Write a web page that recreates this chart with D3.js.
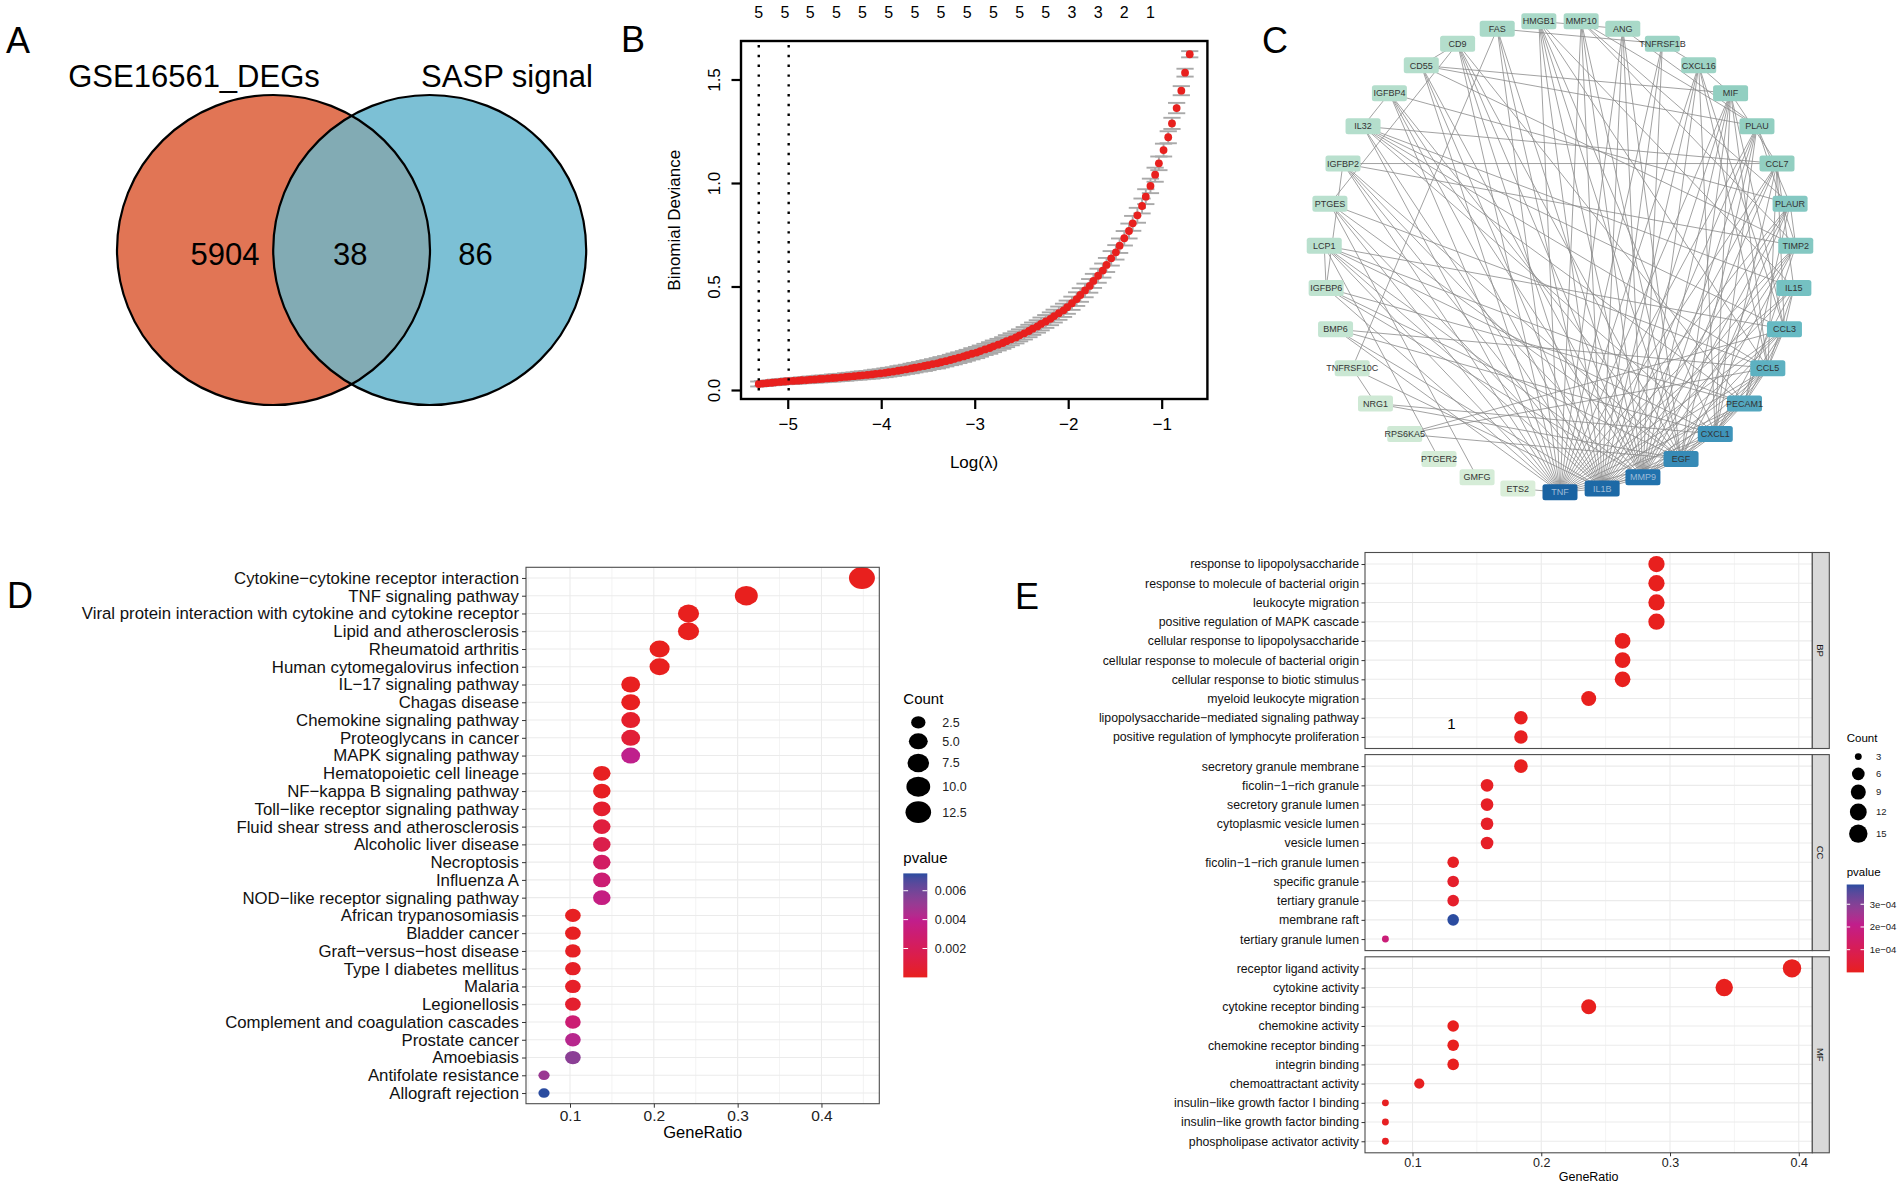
<!DOCTYPE html>
<html><head><meta charset="utf-8">
<script src="https://cdn.jsdelivr.net/npm/d3@7"></script>
<style>body{margin:0;background:#fff}svg{display:block}</style>
</head><body><svg id="fig" width="1902" height="1187"></svg>
<script>
// ================= DATA =================
// Panel A
const vennSets = ["GSE16561_DEGs", "SASP signal"];
const vennCounts = [5904, 38, 86];

// Panel B (cv.glmnet)
const logLambda = [-5.31,-5.27,-5.22,-5.17,-5.13,-5.08,-5.03,-4.99,-4.94,-4.89,
 -4.85,-4.80,-4.76,-4.71,-4.66,-4.62,-4.57,-4.52,-4.48,-4.43,
 -4.38,-4.34,-4.29,-4.24,-4.20,-4.15,-4.10,-4.06,-4.01,-3.96,
 -3.92,-3.87,-3.82,-3.78,-3.73,-3.68,-3.64,-3.59,-3.54,-3.50,
 -3.45,-3.40,-3.36,-3.31,-3.26,-3.22,-3.17,-3.12,-3.08,-3.03,
 -2.98,-2.94,-2.89,-2.84,-2.80,-2.75,-2.70,-2.66,-2.61,-2.56,
 -2.52,-2.47,-2.42,-2.38,-2.33,-2.29,-2.24,-2.19,-2.15,-2.10,
 -2.05,-2.01,-1.96,-1.91,-1.87,-1.82,-1.77,-1.73,-1.68,-1.63,
 -1.59,-1.54,-1.49,-1.45,-1.40,-1.35,-1.31,-1.26,-1.21,-1.17,
 -1.12,-1.07,-1.03,-0.98,-0.93,-0.89,-0.84,-0.79,-0.75,-0.70];
const deviance = [0.029,0.031,0.033,0.035,0.037,0.039,0.041,0.043,0.044,0.045,
 0.047,0.048,0.050,0.051,0.053,0.054,0.056,0.058,0.059,0.061,
 0.063,0.065,0.067,0.069,0.071,0.073,0.075,0.078,0.080,0.083,
 0.086,0.089,0.093,0.096,0.100,0.104,0.108,0.112,0.116,0.120,
 0.125,0.129,0.134,0.139,0.145,0.150,0.156,0.162,0.168,0.175,
 0.181,0.188,0.196,0.203,0.211,0.219,0.227,0.236,0.245,0.254,
 0.264,0.274,0.285,0.296,0.307,0.319,0.331,0.344,0.357,0.371,
 0.385,0.400,0.419,0.439,0.459,0.481,0.503,0.527,0.552,0.577,
 0.604,0.636,0.665,0.697,0.733,0.768,0.805,0.844,0.889,0.934,
 0.986,1.040,1.095,1.159,1.221,1.288,1.362,1.446,1.533,1.622];
const devSE = [0.012,0.012,0.012,0.012,0.013,0.013,0.013,0.013,0.014,0.014,
 0.014,0.015,0.015,0.015,0.016,0.016,0.016,0.017,0.017,0.017,
 0.018,0.018,0.018,0.019,0.019,0.019,0.020,0.020,0.020,0.021,
 0.021,0.021,0.022,0.022,0.022,0.023,0.023,0.023,0.024,0.024,
 0.024,0.025,0.025,0.025,0.025,0.026,0.026,0.026,0.026,0.027,
 0.027,0.027,0.027,0.028,0.028,0.028,0.028,0.029,0.029,0.029,
 0.029,0.030,0.030,0.030,0.030,0.031,0.031,0.031,0.031,0.032,
 0.032,0.032,0.032,0.033,0.033,0.033,0.033,0.034,0.034,0.034,
 0.034,0.035,0.035,0.035,0.035,0.036,0.036,0.036,0.036,0.036,
 0.035,0.034,0.033,0.031,0.029,0.027,0.025,0.022,0.019,0.015];
const nzeroLabels = [5,5,5,5,5,5,5,5,5,5,5,5,3,3,2,1];   // every 6th lambda
const lambdaMin = -5.31, lambda1se = -4.99;
const bXTicks = [-5,-4,-3,-2,-1];
const bYTicks = [0, 0.5, 1, 1.5];

// Panel C (PPI network, circular layout ordered by degree)
const ppiNodes = ["TNF","IL1B","MMP9","EGF","CXCL1","PECAM1","CCL5","CCL3","IL15","TIMP2",
 "PLAUR","CCL7","PLAU","MIF","CXCL16","TNFRSF1B","ANG","MMP10","HMGB1","FAS",
 "CD9","CD55","IGFBP4","IL32","IGFBP2","PTGES","LCP1","IGFBP6","BMP6","TNFRSF10C",
 "NRG1","RPS6KA5","PTGER2","GMFG","ETS2"];
const ppiDegree = [30,28,25,20,18,16,15,14,13,12,12,11,11,11,10,10,9,9,9,9,8,8,8,8,7,7,7,6,5,4,3,3,2,2,1];
const ppiEdges = [
 ["TNF","IL1B"],["TNF","MMP9"],["TNF","EGF"],["TNF","CXCL1"],["TNF","PECAM1"],["TNF","CCL5"],["TNF","CCL3"],["TNF","IL15"],["TNF","TIMP2"],["TNF","PLAUR"],["TNF","CCL7"],["TNF","PLAU"],["TNF","MIF"],["TNF","CXCL16"],["TNF","TNFRSF1B"],["TNF","ANG"],["TNF","MMP10"],["TNF","HMGB1"],["TNF","FAS"],["TNF","CD9"],["TNF","CD55"],["TNF","IGFBP4"],["TNF","IL32"],["TNF","PTGES"],["TNF","LCP1"],["TNF","IGFBP6"],["TNF","BMP6"],["TNF","ETS2"],["TNF","IGFBP2"],
 ["IL1B","MMP9"],["IL1B","EGF"],["IL1B","CXCL1"],["IL1B","PECAM1"],["IL1B","CCL5"],["IL1B","CCL3"],["IL1B","IL15"],["IL1B","TIMP2"],["IL1B","PLAUR"],["IL1B","CCL7"],["IL1B","PLAU"],["IL1B","MIF"],["IL1B","CXCL16"],["IL1B","TNFRSF1B"],["IL1B","ANG"],["IL1B","MMP10"],["IL1B","HMGB1"],["IL1B","FAS"],["IL1B","CD9"],["IL1B","CD55"],["IL1B","IGFBP4"],["IL1B","IL32"],["IL1B","IGFBP2"],["IL1B","PTGES"],["IL1B","LCP1"],["IL1B","BMP6"],["IL1B","TNFRSF10C"],
 ["MMP9","EGF"],["MMP9","CXCL1"],["MMP9","PECAM1"],["MMP9","CCL5"],["MMP9","CCL3"],["MMP9","TIMP2"],["MMP9","PLAUR"],["MMP9","CCL7"],["MMP9","PLAU"],["MMP9","MIF"],["MMP9","CXCL16"],["MMP9","TNFRSF1B"],["MMP9","ANG"],["MMP9","MMP10"],["MMP9","HMGB1"],["MMP9","FAS"],["MMP9","CD9"],["MMP9","CD55"],["MMP9","IGFBP4"],["MMP9","IGFBP2"],["MMP9","LCP1"],["MMP9","IGFBP6"],
 ["EGF","CXCL1"],["EGF","PECAM1"],["EGF","CCL5"],["EGF","TIMP2"],["EGF","PLAUR"],["EGF","PLAU"],["EGF","MIF"],["EGF","ANG"],["EGF","MMP10"],["EGF","HMGB1"],["EGF","CD9"],["EGF","IGFBP4"],["EGF","IGFBP2"],["EGF","IGFBP6"],["EGF","NRG1"],["EGF","RPS6KA5"],["EGF","PTGES"],
 ["CXCL1","PECAM1"],["CXCL1","CCL5"],["CXCL1","CCL3"],["CXCL1","CCL7"],["CXCL1","IL15"],["CXCL1","PLAU"],["CXCL1","MIF"],["CXCL1","CXCL16"],["CXCL1","HMGB1"],["CXCL1","IL32"],["CXCL1","LCP1"],["CXCL1","BMP6"],
 ["PECAM1","CCL5"],["PECAM1","CCL3"],["PECAM1","TIMP2"],["PECAM1","PLAUR"],["PECAM1","CD9"],["PECAM1","IL32"],["PECAM1","LCP1"],["PECAM1","IGFBP6"],
 ["CCL5","CCL3"],["CCL5","CCL7"],["CCL5","IL15"],["CCL5","MIF"],["CCL5","CXCL16"],["CCL5","HMGB1"],["CCL5","IL32"],["CCL5","BMP6"],["CCL5","RPS6KA5"],["CCL5","PTGES"],
 ["CCL3","CCL7"],["CCL3","IL15"],["CCL3","MIF"],["CCL3","CXCL16"],["CCL3","IL32"],["CCL3","LCP1"],
 ["IL15","CCL7"],["IL15","IL32"],["IL15","HMGB1"],["TIMP2","PLAUR"],["TIMP2","PLAU"],["TIMP2","MMP10"],["TIMP2","IGFBP2"],["TIMP2","CD55"],
 ["PLAUR","PLAU"],["PLAUR","MMP10"],["PLAUR","IGFBP4"],["CCL7","MIF"],["CCL7","IL32"],["CCL7","IGFBP2"],
 ["PLAU","MMP10"],["PLAU","ANG"],["PLAU","CD55"],["MIF","CD55"],["MIF","CXCL16"],["CXCL16","TNFRSF1B"],
 ["TNFRSF1B","FAS"],["ANG","HMGB1"],["FAS","TNFRSF10C"],["CD9","CD55"],["CD9","PTGES"],["IGFBP4","IL32"],
 ["IGFBP2","IGFBP6"],["LCP1","IGFBP6"],["TNFRSF10C","NRG1"],["GMFG","PTGES"],["PTGER2","LCP1"],["RPS6KA5","CCL3"],["NRG1","CXCL1"]
];

// Panel D (KEGG)
const keggTerms = ["Cytokine−cytokine receptor interaction","TNF signaling pathway",
 "Viral protein interaction with cytokine and cytokine receptor","Lipid and atherosclerosis",
 "Rheumatoid arthritis","Human cytomegalovirus infection","IL−17 signaling pathway","Chagas disease",
 "Chemokine signaling pathway","Proteoglycans in cancer","MAPK signaling pathway","Hematopoietic cell lineage",
 "NF−kappa B signaling pathway","Toll−like receptor signaling pathway","Fluid shear stress and atherosclerosis",
 "Alcoholic liver disease","Necroptosis","Influenza A","NOD−like receptor signaling pathway",
 "African trypanosomiasis","Bladder cancer","Graft−versus−host disease","Type I diabetes mellitus","Malaria",
 "Legionellosis","Complement and coagulation cascades","Prostate cancer","Amoebiasis","Antifolate resistance",
 "Allograft rejection"];
const keggCount = [13,9,7,7,6,6,5,5,5,5,5,4,4,4,4,4,4,4,4,3,3,3,3,3,3,3,3,3,2,2];
const keggTotal = 29;
const keggP = [1e-9,2e-8,5e-7,3e-6,4e-6,2e-5,5e-5,6e-5,4e-4,8e-4,4.0e-3,1e-4,1.5e-4,5e-4,1.0e-3,
 1.5e-3,2.4e-3,3.0e-3,3.6e-3,1e-4,1.2e-4,2e-4,2.5e-4,3e-4,5e-4,3.0e-3,4.2e-3,5.4e-3,5.0e-3,7.2e-3];
const keggXTicks = [0.1,0.2,0.3,0.4];
const keggCountBreaks = [2.5,5.0,7.5,10.0,12.5];
const keggPBreaks = [0.002,0.004,0.006];

// Panel E (GO)
const bpTerms = ["response to lipopolysaccharide","response to molecule of bacterial origin","leukocyte migration",
 "positive regulation of MAPK cascade","cellular response to lipopolysaccharide",
 "cellular response to molecule of bacterial origin","cellular response to biotic stimulus",
 "myeloid leukocyte migration","lipopolysaccharide−mediated signaling pathway",
 "positive regulation of lymphocyte proliferation"];
const bpCount = [11,11,11,11,10,10,10,9,7,7];
const bpP = [1e-9,2e-9,5e-9,1e-8,3e-8,4e-8,6e-8,2e-7,3e-6,4e-6];
const ccTerms = ["secretory granule membrane","ficolin−1−rich granule","secretory granule lumen",
 "cytoplasmic vesicle lumen","vesicle lumen","ficolin−1−rich granule lumen","specific granule",
 "tertiary granule","membrane raft","tertiary granule lumen"];
const ccCount = [7,6,6,6,6,5,5,5,5,3];
const ccP = [2e-6,1e-5,1.2e-5,1.5e-5,1.6e-5,1e-5,2e-5,2e-5,3.87e-4,1.7e-4];
const mfTerms = ["receptor ligand activity","cytokine activity","cytokine receptor binding","chemokine activity",
 "chemokine receptor binding","integrin binding","chemoattractant activity",
 "insulin−like growth factor I binding","insulin−like growth factor binding","phospholipase activator activity"];
const mfCount = [15,13,9,5,5,5,4,3,3,3];
const mfP = [1e-9,2e-9,5e-8,1e-6,1.5e-6,2e-6,4e-6,5e-6,6e-6,8e-6];
const goTotal = 38;
const goXTicks = [0.1,0.2,0.3,0.4];
const goCountBreaks = [3,6,9,12,15];
const goPBreaks = [1e-4,2e-4,3e-4];
const goPLabels = ["1e−04","2e−04","3e−04"];

// ================= DRAW =================
const FONT = '"Liberation Sans", Arial, Helvetica, sans-serif';
const svg = d3.select("#fig").attr("font-family", FONT);
svg.append("rect").attr("width",1902).attr("height",1187).attr("fill","#fff");
const defs = svg.append("defs");

// panel letters
const letters = [["A",6,53],["B",621,52],["C",1262,53],["D",7,608],["E",1015,609]];
svg.selectAll("text.letter").data(letters).join("text").attr("class","letter")
  .attr("x",d=>d[1]).attr("y",d=>d[2]).attr("font-size",36).attr("fill","#000").text(d=>d[0]);

// ---------- Panel A ----------
{
  const g = svg.append("g");
  const cy = 250, rx = 156.5, ry = 155;
  const cxs = [273.5, 429.7];
  defs.append("clipPath").attr("id","clipLeft").append("ellipse")
    .attr("cx",cxs[0]).attr("cy",cy).attr("rx",rx).attr("ry",ry);
  g.append("ellipse").attr("cx",cxs[0]).attr("cy",cy).attr("rx",rx).attr("ry",ry).attr("fill","#E17555");
  g.append("ellipse").attr("cx",cxs[1]).attr("cy",cy).attr("rx",rx).attr("ry",ry).attr("fill","#7CC0D5");
  g.append("ellipse").attr("cx",cxs[1]).attr("cy",cy).attr("rx",rx).attr("ry",ry).attr("fill","#82ABB4")
    .attr("clip-path","url(#clipLeft)");
  cxs.forEach(cx=>g.append("ellipse").attr("cx",cx).attr("cy",cy).attr("rx",rx).attr("ry",ry)
    .attr("fill","none").attr("stroke","#000").attr("stroke-width",2.2));
  const labX = [194, 507];
  vennSets.forEach((s,i)=>g.append("text").attr("x",labX[i]).attr("y",87).attr("text-anchor","middle")
    .attr("font-size",31).text(s));
  const numX = [225, 350.3, 475.5];
  vennCounts.forEach((n,i)=>g.append("text").attr("x",numX[i]).attr("y",265).attr("text-anchor","middle")
    .attr("font-size",31).text(n));
}

// ---------- Panel B ----------
{
  const g = svg.append("g");
  const L=741, R=1207.4, T=41, B=399;
  const x = d3.scaleLinear().domain([-5.50,-0.511]).range([L,R]);
  const y = d3.scaleLinear().domain([-0.0435,1.686]).range([B,T]);
  const barw = (d3.max(logLambda)-d3.min(logLambda))*0.02;
  const eb = g.append("g").attr("stroke","#A9A9A9").attr("stroke-width",1.9);
  logLambda.forEach((lx,i)=>{
    const up = deviance[i]+devSE[i], lo = deviance[i]-devSE[i];
    eb.append("line").attr("x1",x(lx)).attr("x2",x(lx)).attr("y1",y(up)).attr("y2",y(lo));
    eb.append("line").attr("x1",x(lx-barw)).attr("x2",x(lx+barw)).attr("y1",y(up)).attr("y2",y(up));
    eb.append("line").attr("x1",x(lx-barw)).attr("x2",x(lx+barw)).attr("y1",y(lo)).attr("y2",y(lo));
  });
  g.append("g").selectAll("circle").data(logLambda).join("circle")
    .attr("cx",d=>x(d)).attr("cy",(d,i)=>y(deviance[i])).attr("r",3.9).attr("fill","#E8201E");
  [lambdaMin, lambda1se].forEach(v=>g.append("line").attr("x1",x(v)).attr("x2",x(v)).attr("y1",T+4).attr("y2",B-4)
    .attr("stroke","#000").attr("stroke-width",2.4).attr("stroke-dasharray","2.4 7.4"));
  g.append("rect").attr("x",L).attr("y",T).attr("width",R-L).attr("height",B-T)
    .attr("fill","none").attr("stroke","#000").attr("stroke-width",2.4);
  // x axis
  const ax = g.append("g").attr("transform",`translate(0,${B})`)
    .call(d3.axisBottom(x).tickValues(bXTicks).tickSize(10).tickPadding(9).tickFormat(d=>String(d).replace("-","−")));
  ax.select(".domain").remove();
  ax.selectAll(".tick line").attr("stroke","#000").attr("stroke-width",2.2);
  ax.selectAll("text").attr("font-size",17).attr("font-family",FONT).attr("fill","#000");
  // y axis
  const ay = g.append("g").attr("transform",`translate(${L},0)`)
    .call(d3.axisLeft(y).tickValues(bYTicks).tickSize(9.5).tickFormat(d3.format(".1f")));
  ay.select(".domain").remove();
  ay.selectAll(".tick line").attr("stroke","#000").attr("stroke-width",2.2);
  ay.selectAll("text").attr("font-size",17).attr("font-family",FONT).attr("fill","#000")
    .attr("transform","rotate(-90)").attr("x",0).attr("y",-21).attr("dy",0).attr("text-anchor","middle");
  // top nzero labels
  g.append("g").selectAll("text").data(nzeroLabels).join("text")
    .attr("x",(d,k)=>x(logLambda[k*6])).attr("y",18.3).attr("text-anchor","middle")
    .attr("font-size",16).text(d=>d);
  g.append("text").attr("transform","translate(680,220.3) rotate(-90)").attr("text-anchor","middle")
    .attr("font-size",17).text("Binomial Deviance");
  g.append("text").attr("x",974).attr("y",468).attr("text-anchor","middle").attr("font-size",17).text("Log(λ)");
}

// ---------- Panel C ----------
{
  const g = svg.append("g");
  const cx = 1560, cy = 256.3, r = 236;
  const ang = d3.scaleLinear().domain([0, ppiNodes.length]).range([Math.PI/2, Math.PI/2 - 2*Math.PI]);
  const pos = {};
  ppiNodes.forEach((n,i)=>{ pos[n] = [cx + r*Math.cos(ang(i)), cy + r*Math.sin(ang(i))]; });
  const col = d3.scaleLinear().domain([1,8,11,14,18,25,30])
    .range(["#DAEED9","#B4DECC","#92CFC1","#67BAC3","#3E94BA","#2172AD","#1A63A2"]);
  g.append("g").selectAll("line").data(ppiEdges).join("line")
    .attr("x1",d=>pos[d[0]][0]).attr("y1",d=>pos[d[0]][1]).attr("x2",d=>pos[d[1]][0]).attr("y2",d=>pos[d[1]][1])
    .attr("stroke","#8a8a8a").attr("stroke-width",0.8);
  const nodes = g.append("g").selectAll("g").data(ppiNodes).join("g")
    .attr("transform",d=>`translate(${pos[d][0]},${pos[d][1]})`);
  nodes.append("rect").attr("x",-17.5).attr("y",-8).attr("width",35).attr("height",16).attr("rx",2.5)
    .attr("fill",(d,i)=>col(ppiDegree[i]));
  nodes.append("text").attr("text-anchor","middle").attr("dy","0.35em").attr("font-size",9)
    .attr("fill",(d,i)=>ppiDegree[i]>=25 ? "#9DBBD8" : "#333").text(d=>d);
}

// colour palette shared by D and E (ggplot low=red -> high=blue)
function pPalette(domain){
  return d3.scaleLinear().domain([domain[0], domain[0]+(domain[1]-domain[0])*0.55, domain[1]])
    .range(["#E8201E","#C01E8C","#2B4CA0"]).interpolate(d3.interpolateLab);
}
function colorbar(g, id, scale, x0, w, yScale, breaks, labels, fs){
  const grad = defs.append("linearGradient").attr("id",id).attr("x1",0).attr("y1",1).attr("x2",0).attr("y2",0);
  const dom = scale.domain();
  d3.range(0,21).forEach(k=>{
    const v = dom[0] + (dom[dom.length-1]-dom[0])*k/20;
    grad.append("stop").attr("offset",k/20).attr("stop-color",scale(v));
  });
  const [yb, yt] = yScale.range();
  g.append("rect").attr("x",x0).attr("y",yt).attr("width",w).attr("height",yb-yt).attr("fill",`url(#${id})`);
  breaks.forEach((b,i)=>{
    const yy = yScale(b);
    g.append("line").attr("x1",x0).attr("x2",x0+w*0.2).attr("y1",yy).attr("y2",yy).attr("stroke","#fff").attr("stroke-width",1);
    g.append("line").attr("x1",x0+w*0.8).attr("x2",x0+w).attr("y1",yy).attr("y2",yy).attr("stroke","#fff").attr("stroke-width",1);
    g.append("text").attr("x",x0+w+fs*0.6).attr("y",yy).attr("dy","0.35em").attr("font-size",fs).attr("fill","#222").text(labels[i]);
  });
}

// ---------- Panel D ----------
{
  const g = svg.append("g");
  const L=526, R=879.3, T=567.3, B=1103.7;
  const x = d3.scaleLinear().domain([0.0475,0.469]).range([L,R]);
  const y = d3.scalePoint().domain(keggTerms).range([T,B]).padding(0.6);
  const hD = d3.scaleSqrt().domain([0,11]).range([9.5,22]);  // on (count - 2)
  const sz = c => hD(c-2);
  const colD = pPalette(d3.extent(keggP));
  const grid = g.append("g").attr("stroke","#EBEBEB");
  [0.05,0.15,0.25,0.35,0.45].forEach(v=>grid.append("line").attr("x1",x(v)).attr("x2",x(v)).attr("y1",T).attr("y2",B).attr("stroke-width",0.6));
  keggXTicks.forEach(v=>grid.append("line").attr("x1",x(v)).attr("x2",x(v)).attr("y1",T).attr("y2",B).attr("stroke-width",1.1));
  keggTerms.forEach(t=>grid.append("line").attr("x1",L).attr("x2",R).attr("y1",y(t)).attr("y2",y(t)).attr("stroke-width",1.1));
  g.append("g").selectAll("ellipse").data(keggTerms).join("ellipse")
    .attr("cx",(d,i)=>x(keggCount[i]/keggTotal)).attr("cy",d=>y(d))
    .attr("rx",(d,i)=>sz(keggCount[i])*1.18/2).attr("ry",(d,i)=>sz(keggCount[i])/2)
    .attr("fill",(d,i)=>colD(keggP[i]));
  g.append("rect").attr("x",L).attr("y",T).attr("width",R-L).attr("height",B-T).attr("fill","none").attr("stroke","#4d4d4d").attr("stroke-width",1.1);
  const ay = g.append("g").attr("transform",`translate(${L},0)`).call(d3.axisLeft(y).tickSize(4).tickPadding(3));
  ay.select(".domain").remove();
  ay.selectAll(".tick line").attr("stroke","#333");
  ay.selectAll("text").attr("font-size",16.8).attr("font-family",FONT).attr("fill","#111");
  const ax = g.append("g").attr("transform",`translate(0,${B})`).call(d3.axisBottom(x).tickValues(keggXTicks).tickSize(4).tickPadding(2).tickFormat(d3.format(".1f")));
  ax.select(".domain").remove();
  ax.selectAll(".tick line").attr("stroke","#333");
  ax.selectAll("text").attr("font-size",15.5).attr("font-family",FONT).attr("fill","#222");
  g.append("text").attr("x",(L+R)/2).attr("y",1138).attr("text-anchor","middle").attr("font-size",16.5).text("GeneRatio");
  // legend: Count
  g.append("text").attr("x",903.3).attr("y",704).attr("font-size",15).text("Count");
  let yy = 722.4, prev = null;
  keggCountBreaks.forEach((b,i)=>{
    const h = sz(b), key = Math.max(17.3, h+4.5);
    if(prev!==null) yy += (prev+key)/2;
    prev = key;
    g.append("ellipse").attr("cx",918.3).attr("cy",yy).attr("rx",h*1.18/2).attr("ry",h/2).attr("fill","#000");
    g.append("text").attr("x",942.3).attr("y",yy).attr("dy","0.35em").attr("font-size",12.5).attr("fill","#222").text(d3.format(".1f")(b));
  });
  // legend: pvalue
  g.append("text").attr("x",903.3).attr("y",863).attr("font-size",15).text("pvalue");
  const barY = d3.scaleLinear().domain(d3.extent(keggP)).range([977.4,873.4]);
  colorbar(g,"gradD",colD,903.3,24,barY,keggPBreaks,keggPBreaks.map(d3.format(".3f")),12.5);
}

// ---------- Panel E ----------
{
  const g = svg.append("g");
  const L=1365, R=1812.3;
  const facets = [
    {name:"BP", terms:bpTerms, count:bpCount, p:bpP, top:552.5},
    {name:"CC", terms:ccTerms, count:ccCount, p:ccP, top:754.6},
    {name:"MF", terms:mfTerms, count:mfCount, p:mfP, top:956.8}];
  const H = 196;
  const x = d3.scaleLinear().domain([0.0631,0.4105]).range([L,R]);
  const allP = bpP.concat(ccP, mfP);
  const colE = pPalette(d3.extent(allP));
  const sE = d3.scaleSqrt().domain([0,12]).range([3,8]);   // on (count - 3)
  const sz = c => 2.3*sE(c-3);
  facets.forEach(f=>{
    const T=f.top, B=f.top+H;
    const y = d3.scalePoint().domain(f.terms).range([T,B]).padding(0.6);
    const grid = g.append("g").attr("stroke","#EBEBEB");
    [0.15,0.25,0.35].forEach(v=>grid.append("line").attr("x1",x(v)).attr("x2",x(v)).attr("y1",T).attr("y2",B).attr("stroke-width",0.6));
    goXTicks.forEach(v=>grid.append("line").attr("x1",x(v)).attr("x2",x(v)).attr("y1",T).attr("y2",B).attr("stroke-width",1.1));
    f.terms.forEach(t=>grid.append("line").attr("x1",L).attr("x2",R).attr("y1",y(t)).attr("y2",y(t)).attr("stroke-width",1.1));
    g.append("g").selectAll("circle").data(f.terms).join("circle")
      .attr("cx",(d,i)=>x(f.count[i]/goTotal)).attr("cy",d=>y(d)).attr("r",(d,i)=>sz(f.count[i])/2)
      .attr("fill",(d,i)=>colE(f.p[i]));
    g.append("rect").attr("x",L).attr("y",T).attr("width",R-L).attr("height",H).attr("fill","none").attr("stroke","#4d4d4d").attr("stroke-width",1.1);
    g.append("rect").attr("x",R).attr("y",T).attr("width",17).attr("height",H).attr("fill","#D9D9D9").attr("stroke","#4d4d4d").attr("stroke-width",1.1);
    g.append("text").attr("transform",`translate(${R+8.5},${T+H/2}) rotate(90)`).attr("text-anchor","middle").attr("dy","0.35em")
      .attr("font-size",9.5).attr("fill","#1a1a1a").text(f.name);
    const ay = g.append("g").attr("transform",`translate(${L},0)`).call(d3.axisLeft(y).tickSize(3.5).tickPadding(2.5));
    ay.select(".domain").remove();
    ay.selectAll(".tick line").attr("stroke","#333");
    ay.selectAll("text").attr("font-size",12.3).attr("font-family",FONT).attr("fill","#111");
  });
  const B = facets[2].top+H;
  const ax = g.append("g").attr("transform",`translate(0,${B})`).call(d3.axisBottom(x).tickValues(goXTicks).tickSize(3.5).tickPadding(2).tickFormat(d3.format(".1f")));
  ax.select(".domain").remove();
  ax.selectAll(".tick line").attr("stroke","#333");
  ax.selectAll("text").attr("font-size",12.5).attr("font-family",FONT).attr("fill","#222");
  g.append("text").attr("x",(L+R)/2).attr("y",1181).attr("text-anchor","middle").attr("font-size",12.5).text("GeneRatio");
  g.append("text").attr("x",1451.5).attr("y",729).attr("text-anchor","middle").attr("font-size",15).text("1");
  // legend Count
  g.append("text").attr("x",1846.7).attr("y",742).attr("font-size",11.5).text("Count");
  let yy = 756.6, prev = null;
  goCountBreaks.forEach(b=>{
    const d = sz(b), key = Math.max(17.3, d+4);
    if(prev!==null) yy += (prev+key)/2;
    prev = key;
    g.append("circle").attr("cx",1858.3).attr("cy",yy).attr("r",d/2).attr("fill","#000");
    g.append("text").attr("x",1876).attr("y",yy).attr("dy","0.35em").attr("font-size",9.5).attr("fill","#222").text(b);
  });
  g.append("text").attr("x",1846.7).attr("y",876).attr("font-size",11.5).text("pvalue");
  const barY = d3.scaleLinear().domain(d3.extent(allP)).range([972.4,884.5]);
  colorbar(g,"gradE",colE,1846.7,17.3,barY,goPBreaks,goPLabels,9.5);
}
</script></body></html>
